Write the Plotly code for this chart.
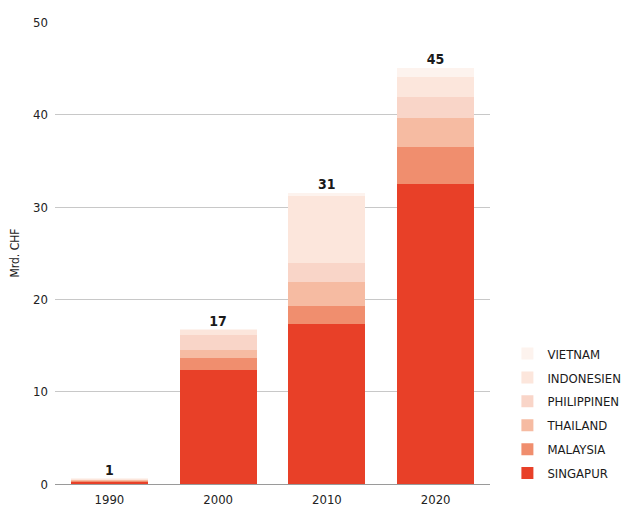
import plotly.graph_objects as go

years = ["1990", "2000", "2010", "2020"]
series_names = ["SINGAPUR", "MALAYSIA", "THAILAND", "PHILIPPINEN", "INDONESIEN", "VIETNAM"]
singapur = [0.25, 12.3, 17.35, 32.5]
malaysia = [0.1, 1.4, 1.9, 4.0]
thailand = [0.1, 0.8, 2.6, 3.1]
philippinen = [0.08, 1.6, 2.1, 2.3]
indonesien = [0.05, 0.6, 7.3, 2.2]
vietnam = [0.02, 0.05, 0.3, 1.0]
total_labels = ["1", "17", "31", "45"]
colors = ["#e84028", "#f08e6e", "#f6bba2", "#f9d5c8", "#fce6dc", "#fdf3ee"]

values = [singapur, malaysia, thailand, philippinen, indonesien, vietnam]

FONT = "DejaVu Sans Condensed, Liberation Sans Narrow, Roboto, sans-serif"

# page body has an 8px default margin: size figure to fit the 636x508 window
W, H = 628, 500

fig = go.Figure()
for i, (name, vals, col) in enumerate(zip(series_names, values, colors)):
    fig.add_trace(go.Bar(x=years, y=vals, name=name, legendgroup=name, legendrank=100 - i,
                         marker=dict(color=col, line=dict(width=0)), hoverinfo="skip"))

totals = [sum(v[i] for v in values) for i in range(len(years))]
fig.add_trace(go.Scatter(x=years, y=totals, mode="text", text=["<b>" + t + "</b>" for t in total_labels],
                         textposition="top center", showlegend=False, hoverinfo="skip",
                         textfont=dict(size=14, color="#1a1a1a", family=FONT)))

fig.update_layout(
    width=W, height=H,
    barmode="stack", bargap=0.29,
    paper_bgcolor="white", plot_bgcolor="white",
    margin=dict(l=47, r=146, t=14, b=24, autoexpand=False),
    font=dict(family=FONT, color="#222", size=13),
    showlegend=True,
    legend=dict(traceorder="grouped", x=1.04, xanchor="left", y=-0.01, yanchor="bottom",
                font=dict(size=13, color="#1a1a1a", family=FONT), itemsizing="constant",
                tracegroupgap=4, bgcolor="rgba(0,0,0,0)"),
    yaxis=dict(range=[0, 50.05], tickvals=[0, 10, 20, 30, 40, 50], showgrid=True,
               gridcolor="#c8c8c8", gridwidth=1, automargin=False,
               zeroline=True, zerolinecolor="#9a9a9a", zerolinewidth=1,
               ticks="", ticklabelstandoff=6, tickfont=dict(size=13, color="#222"),
               title=dict(text="Mrd. CHF", font=dict(size=12, color="#222"), standoff=16),
               showline=False),
    xaxis=dict(type="category", categoryorder="array", categoryarray=years, range=[-0.5, 3.5],
               showgrid=False, ticks="", automargin=False, ticklabelstandoff=6,
               tickfont=dict(size=13, color="#222"), showline=False),
)

fig.write_html("out.html")
